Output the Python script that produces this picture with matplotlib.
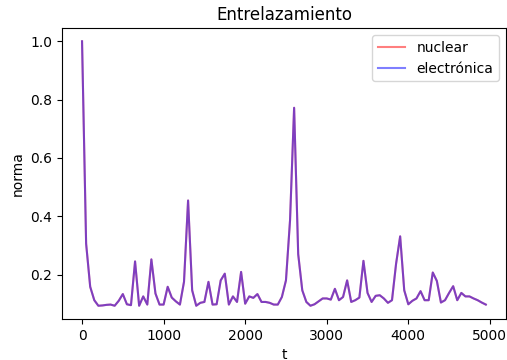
import numpy as np
import matplotlib
matplotlib.use('Agg')
import matplotlib.pyplot as plt

# time axis and entanglement norm (both subsystems give the same curve)
t = np.arange(0, 5000, 50)
norma = [
    1.000, 0.306, 0.158, 0.112, 0.093, 0.094, 0.096, 0.097, 0.093, 0.110,
    0.133, 0.098, 0.095, 0.245, 0.093, 0.125, 0.097, 0.252, 0.135, 0.097,
    0.097, 0.158, 0.121, 0.108, 0.097, 0.175, 0.454, 0.146, 0.093, 0.103,
    0.106, 0.175, 0.097, 0.098, 0.180, 0.203, 0.097, 0.125, 0.106, 0.209,
    0.100, 0.125, 0.120, 0.133, 0.106, 0.106, 0.103, 0.097, 0.097, 0.123,
    0.180, 0.386, 0.772, 0.270, 0.146, 0.106, 0.093, 0.098, 0.108, 0.118,
    0.118, 0.114, 0.151, 0.112, 0.123, 0.180, 0.106, 0.112, 0.121, 0.247,
    0.137, 0.106, 0.127, 0.129, 0.118, 0.103, 0.112, 0.237, 0.331, 0.146,
    0.098, 0.110, 0.118, 0.143, 0.112, 0.112, 0.207, 0.178, 0.104, 0.112,
    0.137, 0.160, 0.112, 0.137, 0.125, 0.125, 0.118, 0.112, 0.104, 0.097,
]
nuclear = norma
electronica = norma

fig = plt.figure(figsize=(5.07, 3.6), dpi=100)
ax = fig.add_axes([0.122, 0.114, 0.876, 0.808])
ax.plot(t, nuclear, 'r', alpha=0.5, label='nuclear')
ax.plot(t, electronica, 'b', alpha=0.5, label='electrónica')
ax.set_title('Entrelazamiento')
ax.set_xlabel('t')
ax.set_ylabel('norma')
ax.legend(loc='upper right')

fig.savefig('out.png', dpi=100)
